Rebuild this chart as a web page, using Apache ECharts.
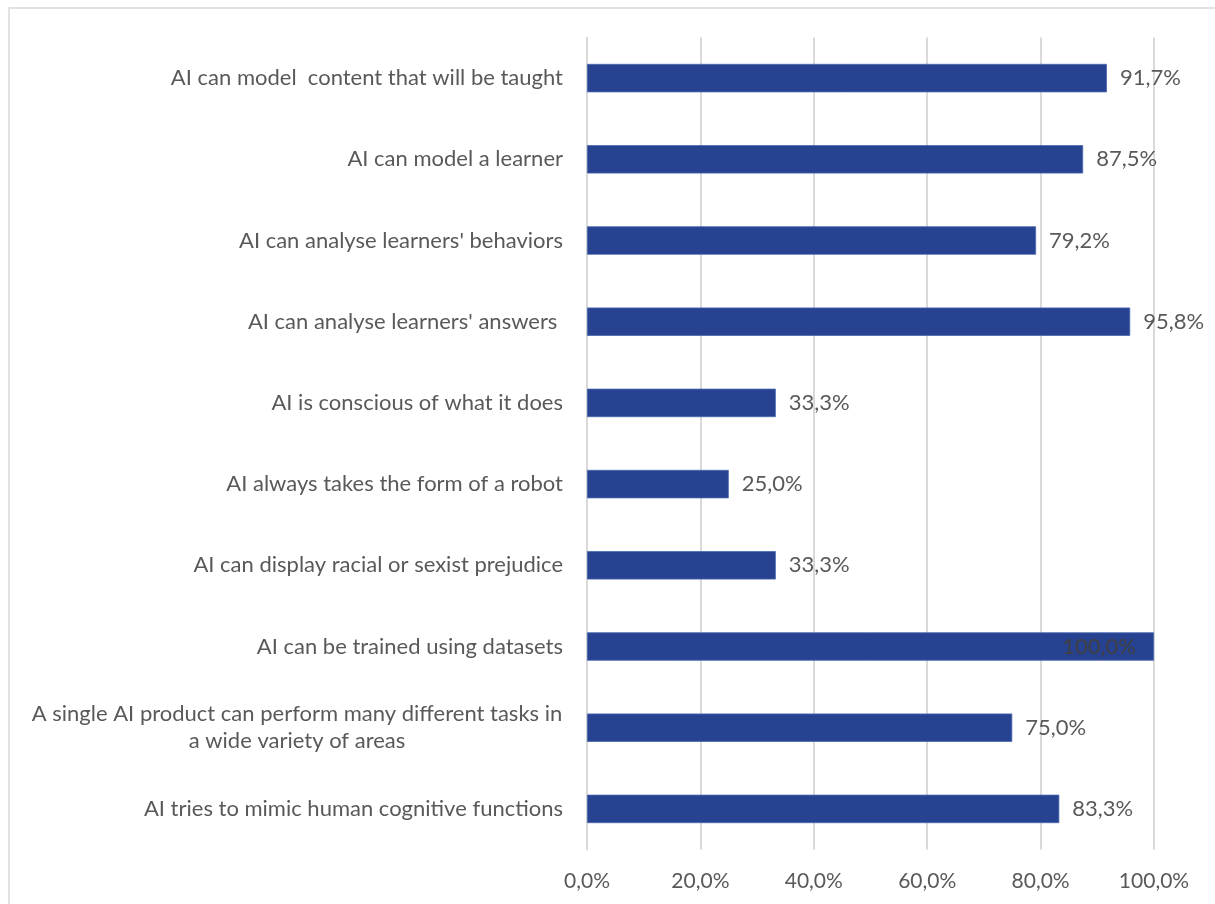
<!DOCTYPE html>
<html>
<head>
<meta charset="utf-8">
<script src="https://cdn.jsdelivr.net/npm/echarts@6/dist/echarts.min.js"></script>
<style>
html,body{margin:0;padding:0;background:#fff;}
#chart{width:1215px;height:904px;}
</style>
</head>
<body>
<div id="chart"></div>
<script>
const categories = [
  "AI can model  content that will be taught",
  "AI can model a learner",
  "AI can analyse learners' behaviors",
  "AI can analyse learners' answers ",
  "AI is conscious of what it does",
  "AI always takes the form of a robot",
  "AI can display racial or sexist prejudice",
  "AI can be trained using datasets",
  "A single AI product can perform many different tasks in\na wide variety of areas",
  "AI tries to mimic human cognitive functions"
];
const values = [91.7, 87.5, 79.2, 95.8, 33.3, 25.0, 33.3, 100.0, 75.0, 83.3];
const xTicks = [0, 20, 40, 60, 80, 100];

const FONT = 'Lato';
const fmt = v => v.toFixed(1).replace('.', ',') + '%';

const chart = echarts.init(document.getElementById('chart'), null, {renderer: 'canvas'});
chart.setOption({
  backgroundColor: '#ffffff',
  animation: false,
  graphic: [{
    type: 'rect',
    shape: {x: 9, y: 8, width: 1300, height: 1000},
    style: {fill: 'none', stroke: '#d9d9d9', lineWidth: 1.5},
    silent: true, z: -10
  }],
  grid: {left: 587, right: 61, top: 37.5, bottom: 54.5, containLabel: false},
  xAxis: {
    type: 'value',
    min: xTicks[0], max: xTicks[xTicks.length - 1], interval: 20,
    axisLine: {show: false},
    axisTick: {show: false},
    splitLine: {show: true, lineStyle: {color: '#d9d9d9', width: 2}},
    axisLabel: {
      formatter: v => fmt(v),
      color: '#595959', fontFamily: FONT, fontSize: 21, margin: 21
    }
  },
  yAxis: {
    type: 'category',
    inverse: true,
    data: categories,
    axisLine: {show: true, lineStyle: {color: '#d9d9d9', width: 2}},
    axisTick: {show: false},
    axisLabel: {
      color: '#595959', fontFamily: FONT, fontSize: 22, margin: 24, align: 'right',
      formatter: v => {
        if (v.indexOf('\n') >= 0) {
          return v.split('\n').map(s => '{c|' + s + '}').join('\n');
        }
        return v;
      },
      rich: {
        c: {width: 532, align: 'center', color: '#595959', fontFamily: FONT, fontSize: 22, lineHeight: 27}
      }
    }
  },
  series: [{
    type: 'bar',
    data: values.map(v => v >= 100 ? {
      value: v,
      label: {position: 'insideRight', distance: 18, color: '#404040'}
    } : v),
    barWidth: '35%',
    itemStyle: {color: '#264291', borderColor: '#4a68b0', borderWidth: 0.8},
    label: {
      show: true, position: 'right', distance: 13,
      formatter: p => fmt(p.value),
      color: '#595959', fontFamily: FONT, fontSize: 22
    }
  }]
});
</script>
</body>
</html>
